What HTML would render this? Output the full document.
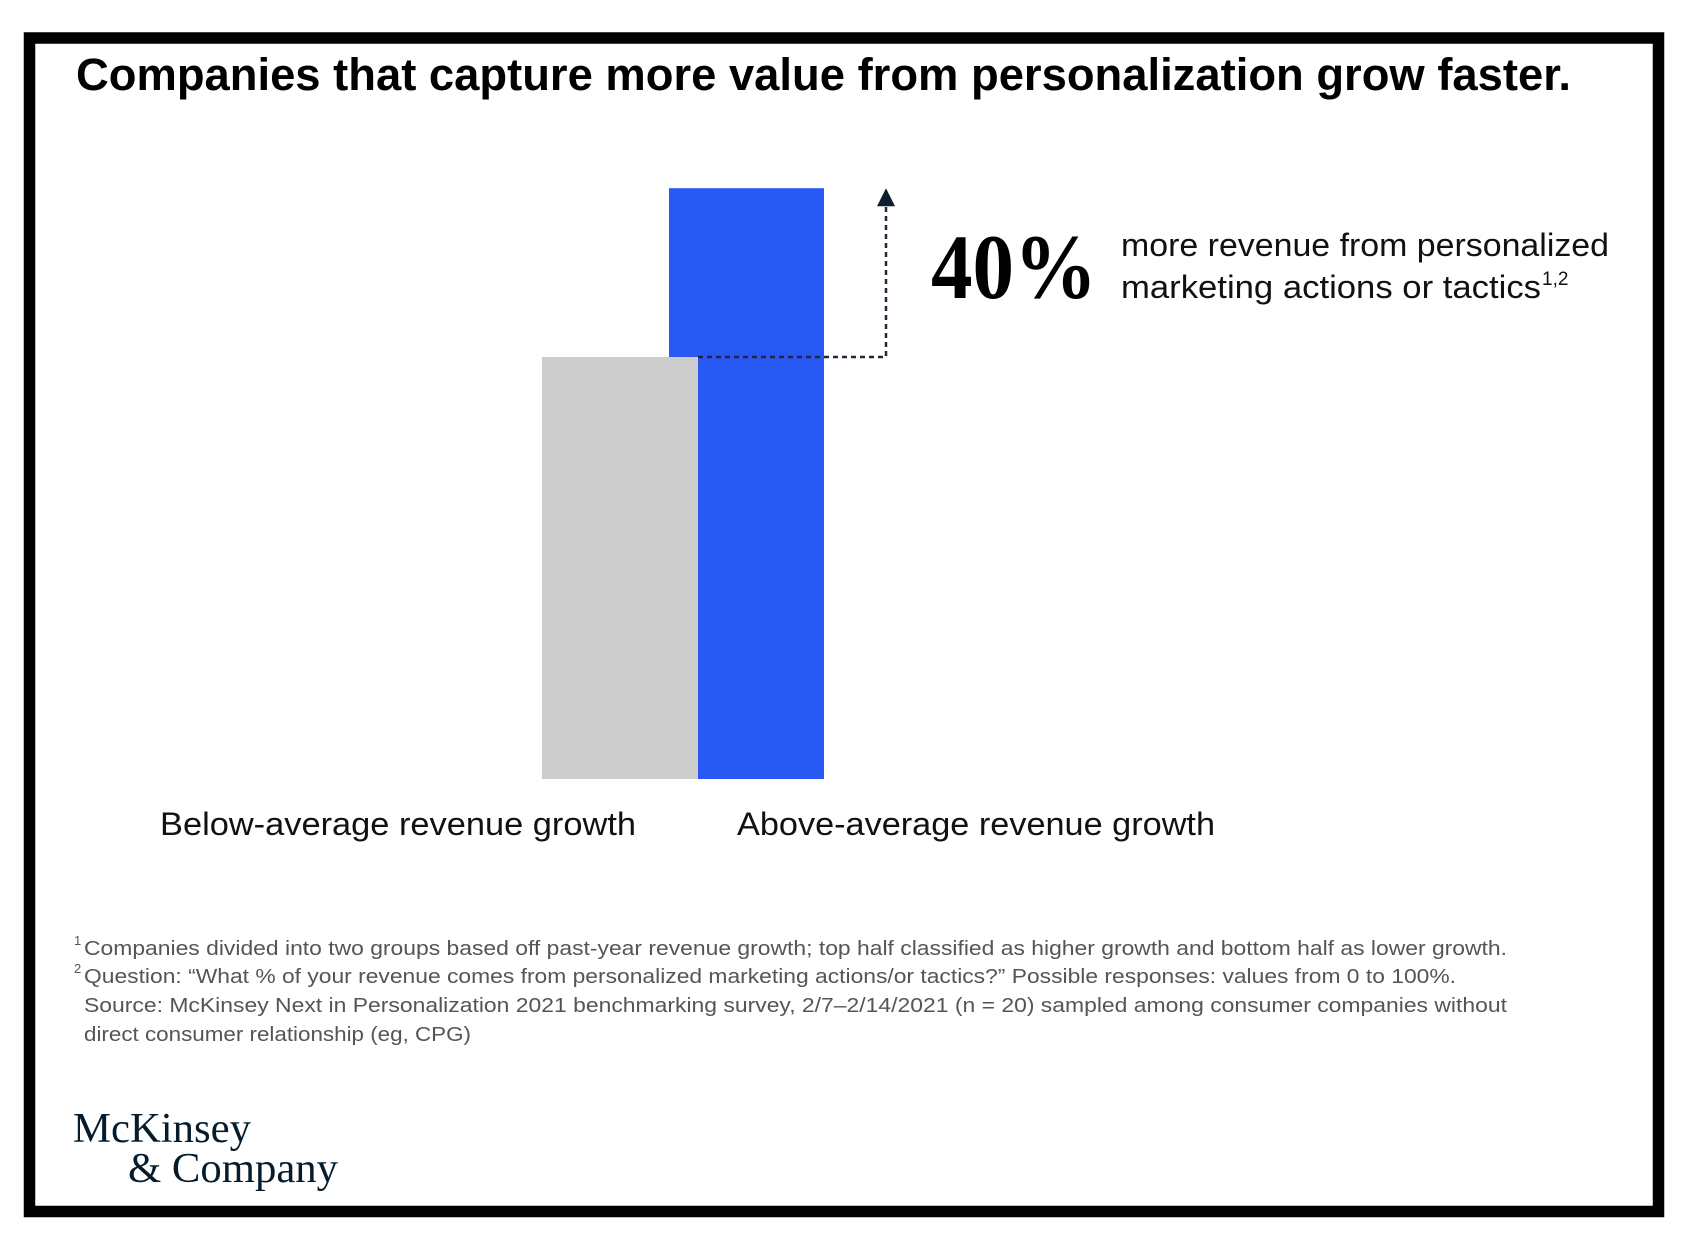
<!DOCTYPE html>
<html><head><meta charset="utf-8"><style>
html,body{margin:0;padding:0;background:#fff;}
svg{display:block;}
</style></head><body>
<svg id="chart" width="1692" height="1250" viewBox="0 0 1692 1250" xmlns="http://www.w3.org/2000/svg">
  <rect x="29.5" y="38" width="1629" height="1173.5" fill="#fff" stroke="#000" stroke-width="11.5"/>
  <text x="76" y="90" font-family="Liberation Sans, sans-serif" font-weight="bold" font-size="45" textLength="1495" lengthAdjust="spacingAndGlyphs" fill="#000">Companies that capture more value from personalization grow faster.</text>
  <g id="bars"></g>
  <g id="annot"></g>
  <text x="931" y="298" font-family="Liberation Serif, serif" font-weight="bold" font-size="92" textLength="166" lengthAdjust="spacingAndGlyphs" fill="#000">40%</text>
  <text x="1121" y="256" font-family="Liberation Sans, sans-serif" font-size="32" textLength="488" lengthAdjust="spacingAndGlyphs" fill="#111">more revenue from personalized</text>
  <text x="1121" y="298" font-family="Liberation Sans, sans-serif" font-size="32" textLength="420" lengthAdjust="spacingAndGlyphs" fill="#111">marketing actions or tactics</text>
  <text x="1542" y="285" font-family="Liberation Sans, sans-serif" font-size="19" fill="#111">1,2</text>
  <g font-family="Liberation Sans, sans-serif" font-size="20" fill="#555">
    <text x="74" y="945" font-size="13">1</text>
    <text x="84" y="955" textLength="1423" lengthAdjust="spacingAndGlyphs">Companies divided into two groups based off past-year revenue growth; top half classified as higher growth and bottom half as lower growth.</text>
    <text x="74" y="973" font-size="13">2</text>
    <text x="84" y="983" textLength="1372" lengthAdjust="spacingAndGlyphs">Question: “What % of your revenue comes from personalized marketing actions/or tactics?” Possible responses: values from 0 to 100%.</text>
    <text x="84" y="1012" textLength="1423" lengthAdjust="spacingAndGlyphs">Source: McKinsey Next in Personalization 2021 benchmarking survey, 2/7–2/14/2021 (n = 20) sampled among consumer companies without</text>
    <text x="84" y="1041" textLength="387" lengthAdjust="spacingAndGlyphs">direct consumer relationship (eg, CPG)</text>
  </g>
  <text x="73" y="1142" font-family="Liberation Serif, serif" font-size="42" textLength="178" lengthAdjust="spacingAndGlyphs" fill="#051c2c">McKinsey</text>
  <text x="128" y="1182" font-family="Liberation Serif, serif" font-size="42" textLength="210" lengthAdjust="spacingAndGlyphs" fill="#051c2c">&amp; Company</text>
</svg>
<script>
const categories = ["Below-average revenue growth", "Above-average revenue growth"];
const values = [100, 140];
const barColors = ["#cccccc", "#2959f4"];

const NS = "http://www.w3.org/2000/svg";
const baseY = 779, pxPerUnit = 4.22;
function yScale(v){ return baseY - v * pxPerUnit; }
const barX = [542, 669], barW = [156, 155];
const labelX = [160, 737];
const gBars = document.getElementById('bars');
[1,0].forEach(i=>{
  const r = document.createElementNS(NS,'rect');
  
  
  r.setAttribute('x', barX[i]); r.setAttribute('width', barW[i]);
  r.setAttribute('y', yScale(values[i])); r.setAttribute('height', baseY - yScale(values[i]));
  r.setAttribute('fill', barColors[i]);
  gBars.appendChild(r);
});
categories.forEach((c,i)=>{
  const t = document.createElementNS(NS,'text');
  
  
  t.setAttribute('x', labelX[i]); t.setAttribute('y', 835);
  t.setAttribute('font-family', 'Liberation Sans, sans-serif');
  t.setAttribute('font-size', '32'); t.setAttribute('fill', '#111');
  t.setAttribute('textLength', i===0 ? 476 : 478);
  t.setAttribute('lengthAdjust', 'spacingAndGlyphs');
  t.textContent = c;
  gBars.appendChild(t);
});
const ga = document.getElementById('annot');
const ax = 886, y0 = yScale(values[0]), y1 = yScale(values[1]);
const p = document.createElementNS(NS,'path');


p.setAttribute('d', `M${barX[0]+barW[0]} ${y0} H${ax} V${y1+16}`);
p.setAttribute('fill', 'none'); p.setAttribute('stroke', '#1c2b3a');
p.setAttribute('stroke-width', '2.5'); p.setAttribute('stroke-dasharray', '5 4');
ga.appendChild(p);
const ah = document.createElementNS(NS,'path');


ah.setAttribute('d', `M${ax} ${y1} L${ax-9} ${y1+18} L${ax+9} ${y1+18} Z`);
ah.setAttribute('fill', '#0e1e2e');
ga.appendChild(ah);
</script>
</body></html>
